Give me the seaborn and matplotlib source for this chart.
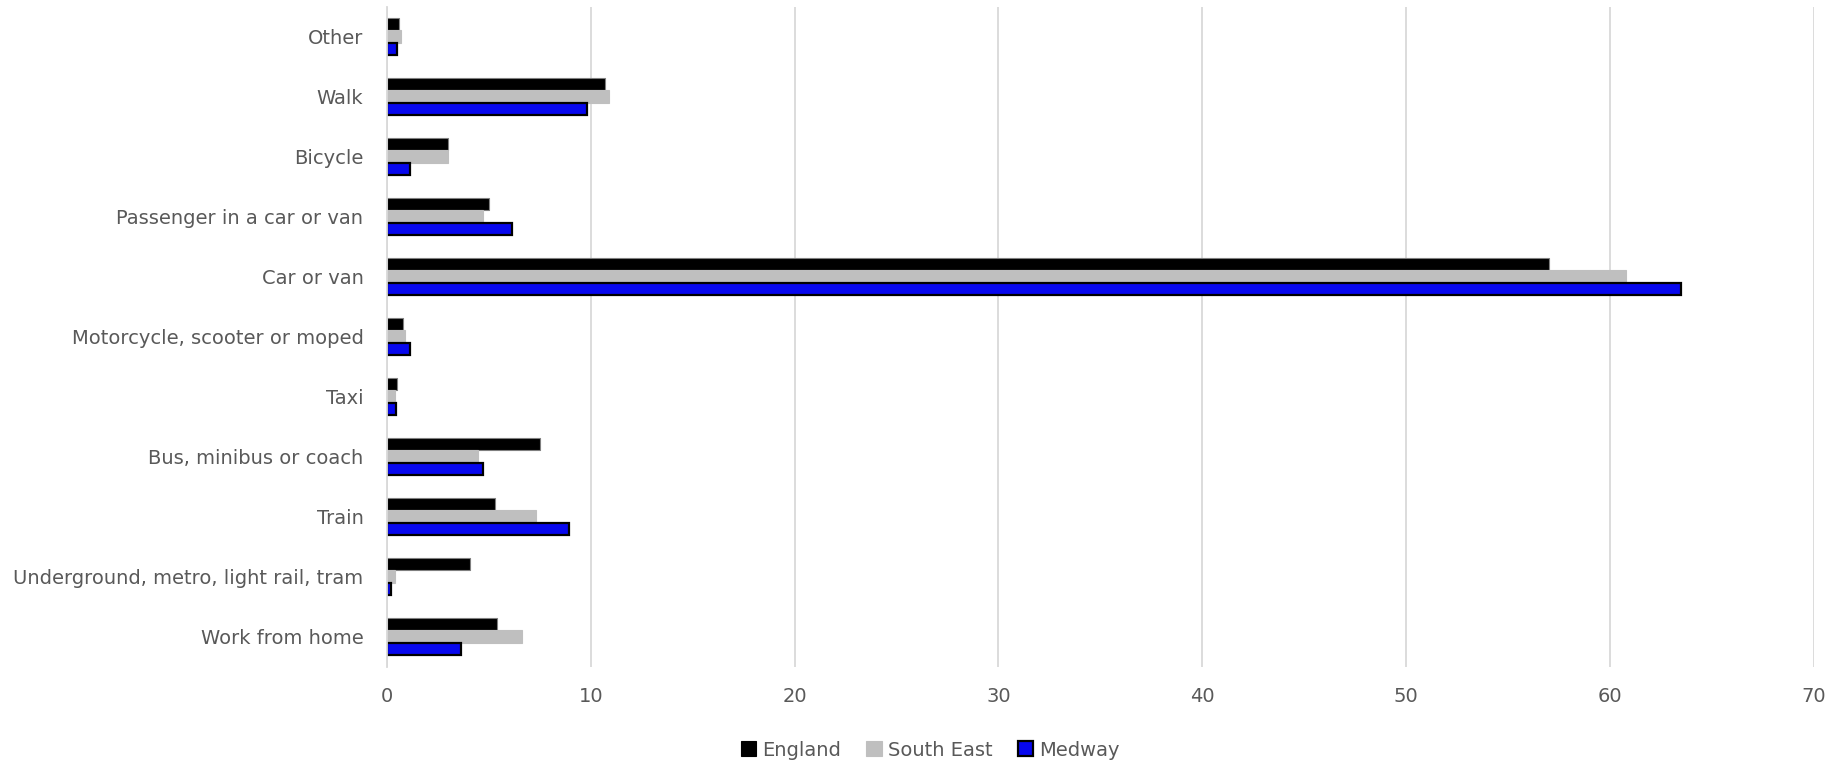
import matplotlib
matplotlib.use("Agg")
import matplotlib.pyplot as plt
import seaborn as sns
import pandas as pd

# Method of travel to work, % of usual residents in employment
modes = [
    "Other",
    "Walk",
    "Bicycle",
    "Passenger in a car or van",
    "Car or van",
    "Motorcycle, scooter or moped",
    "Taxi",
    "Bus, minibus or coach",
    "Train",
    "Underground, metro, light rail, tram",
    "Work from home",
]
areas = ["England", "South East", "Medway"]
england = [0.57, 10.7, 2.98, 4.99, 57.0, 0.79, 0.47, 7.49, 5.28, 4.09, 5.38]
south_east = [0.69, 10.9, 2.98, 4.70, 60.8, 0.88, 0.38, 4.48, 7.29, 0.38, 6.60]
medway = [0.50, 9.82, 1.11, 6.14, 63.5, 1.11, 0.43, 4.71, 8.93, 0.20, 3.63]

df = pd.DataFrame({
    "mode": modes * 3,
    "area": [a for a in areas for _ in modes],
    "pct": england + south_east + medway,
})

colors = {"England": "#000000", "South East": "#BFBFBF", "Medway": "#0707EE"}
edges = {"England": "#7F7F7F", "South East": "#BFBFBF", "Medway": "#000000"}
text_color = "#595959"
font_size = 14

sns.set_theme(style="white")
plt.rcParams["font.family"] = ["DejaVu Sans"]

fig = plt.figure(figsize=(18.49, 7.67), dpi=100)
ax = fig.add_axes([0.2093, 0.1309, 0.7716, 0.8605])

sns.barplot(
    data=df, y="mode", x="pct", hue="area", order=modes, hue_order=areas,
    palette=colors, orient="h", width=0.63, ax=ax, errorbar=None,
    saturation=1, legend=True,
)

for container, area in zip(ax.containers, areas):
    for bar in container:
        bar.set_edgecolor(edges[area])
        bar.set_linewidth(1.6 if area == "Medway" else 0.8)

ax.set_xlim(0, 70)
ax.set_ylim(len(modes) - 0.5, -0.5)
ax.set_xticks(range(0, 71, 10))
ax.grid(axis="x", color="#D9D9D9", linewidth=1.3)
ax.set_axisbelow(True)
for s in ["top", "right", "bottom"]:
    ax.spines[s].set_visible(False)
ax.spines["left"].set_color("#D9D9D9")
ax.spines["left"].set_linewidth(1.3)
ax.set_xlabel("")
ax.set_ylabel("")
ax.tick_params(axis="both", length=0, labelsize=font_size, labelcolor=text_color)
ax.tick_params(axis="x", pad=15)
ax.tick_params(axis="y", pad=17)

handles, labels = ax.get_legend_handles_labels()
ax.get_legend().remove()
for h, area in zip(handles, areas):
    h.set_edgecolor(edges[area] if area == "Medway" else colors[area])
    h.set_linewidth(1.6 if area == "Medway" else 0.8)
fig.legend(
    handles, labels, loc="center", bbox_to_anchor=(0.503, 0.022),
    ncol=3, frameon=False, fontsize=font_size, labelcolor=text_color,
    handlelength=0.8, handleheight=0.8, handletextpad=0.3, columnspacing=1.3,
)

fig.savefig("out.png", dpi=100)
